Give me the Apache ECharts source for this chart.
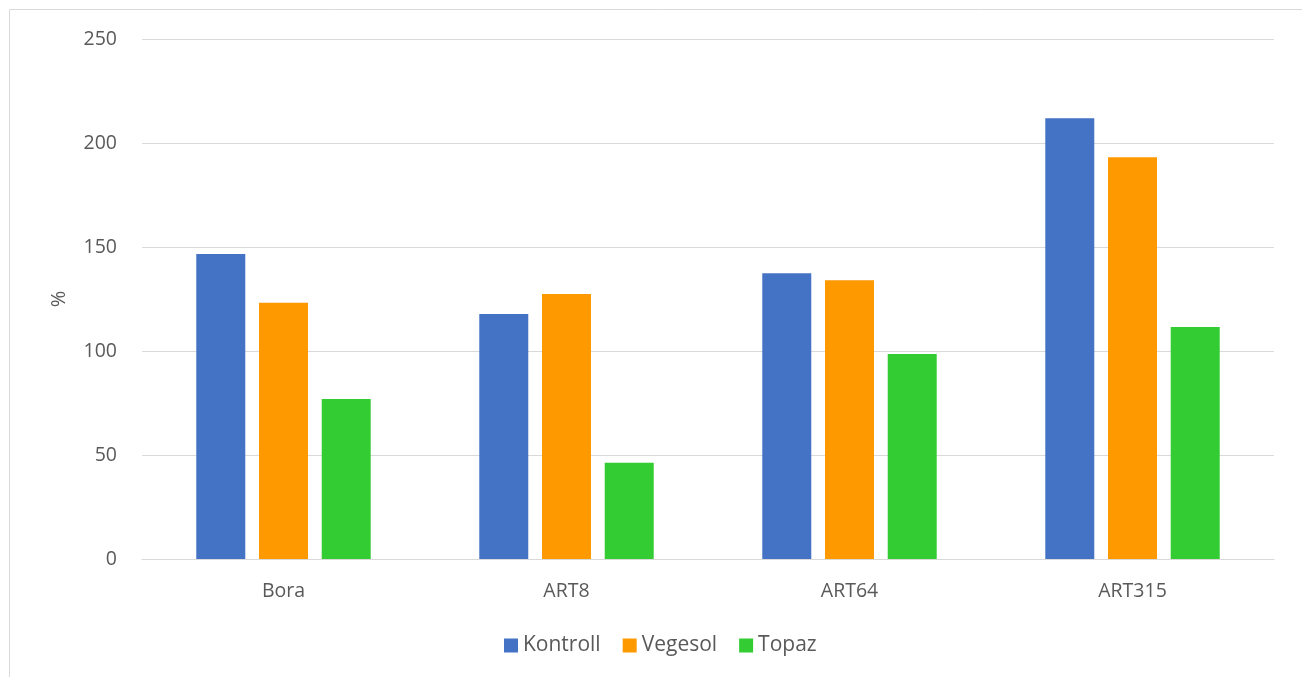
<!DOCTYPE html>
<html><head><meta charset="utf-8">
<script src="https://cdn.jsdelivr.net/npm/echarts@6/dist/echarts.min.js"></script>
<style>html,body{margin:0;padding:0;background:#fff}#c{width:1302px;height:677px}</style>
</head><body><div id="c"></div>
<script>
const categories = ['Bora', 'ART8', 'ART64', 'ART315'];
const kontroll = [146.6, 117.8, 137.4, 211.9];
const vegesol = [123.2, 127.4, 134.0, 193.1];
const topaz = [76.9, 46.3, 98.6, 111.5];
const yTicks = [0, 50, 100, 150, 200, 250];

const FONT = 'Open Sans';
const chart = echarts.init(document.getElementById('c'), null, {renderer: 'canvas'});
const mk = (name, data, color) => ({
  name, type: 'bar', data, barWidth: 49, barGap: '28%',
  itemStyle: {color}, emphasis: {disabled: true}
});
chart.setOption({
  animation: false,
  textStyle: {fontFamily: FONT},
  graphic: [{type: 'rect', shape: {x: 9.5, y: 9.5, width: 1310, height: 700},
    style: {fill: 'none', stroke: '#d9d9d9', lineWidth: 1}, silent: true}],
  grid: {left: 142, right: 28, top: 39, bottom: 118},
  legend: {
    data: ['Kontroll', 'Vegesol', 'Topaz'], top: 630, left: 499,
    icon: 'rect', itemWidth: 14, itemHeight: 14, itemGap: 22,
    textStyle: {color: '#595959', fontSize: 21, fontFamily: FONT}
  },
  xAxis: {
    type: 'category', data: categories,
    axisLine: {lineStyle: {color: '#d9d9d9', width: 1}},
    axisTick: {show: false},
    axisLabel: {color: '#595959', fontSize: 19.5, margin: 22, fontFamily: FONT}
  },
  yAxis: {
    type: 'value', min: yTicks[0], max: yTicks[yTicks.length - 1], interval: 50,
    name: '%', nameLocation: 'middle', nameGap: 73, nameRotate: 90,
    nameTextStyle: {color: '#595959', fontSize: 20, fontFamily: FONT},
    axisLine: {show: false}, axisTick: {show: false},
    axisLabel: {color: '#595959', fontSize: 19.5, margin: 25, fontFamily: FONT},
    splitLine: {lineStyle: {color: '#d9d9d9', width: 1}}
  },
  series: [
    mk('Kontroll', kontroll, '#4472c4'),
    mk('Vegesol', vegesol, '#ff9900'),
    mk('Topaz', topaz, '#33cc33')
  ]
});
</script></body></html>
